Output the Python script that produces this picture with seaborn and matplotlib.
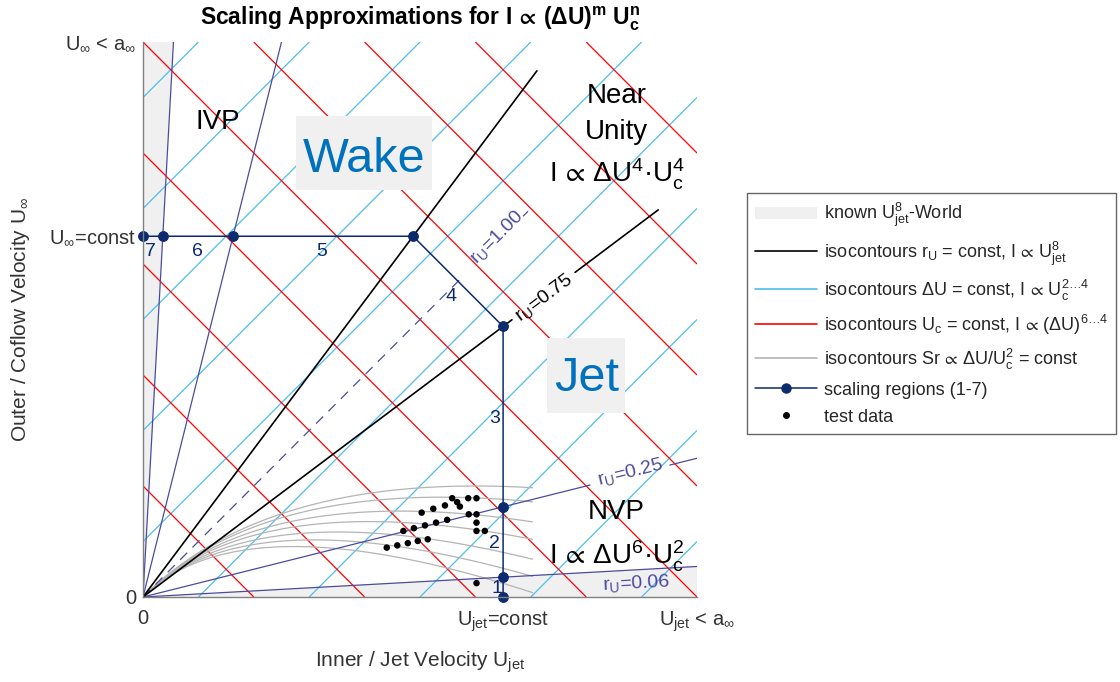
import numpy as np
import matplotlib
matplotlib.use("Agg")
import matplotlib.pyplot as plt
import seaborn as sns
import pandas as pd
from matplotlib.patches import Polygon, Patch, Rectangle
from matplotlib.lines import Line2D
from matplotlib.transforms import Bbox, TransformedBbox

# ---------------- data ----------------
du_levels = [-0.9, -0.7, -0.5, -0.3, -0.1, 0.1, 0.3, 0.5, 0.7, 0.9]     # Ujet - Uinf = const
uc_levels = [0.2, 0.4, 0.6, 0.8, 1.0, 1.2, 1.4, 1.6, 1.8]               # Ujet + Uinf = const
sr_levels = [2.5, 2.78, 3.23, 3.68, 4.27, 4.86, 5.5]                    # 4*dU/(Ujet+Uinf)^2
sr_xmax = 0.704
ru_min = 0.055          # r_U = 0.06 (known world edge)
ru_quarter = 0.25
ru_black_hi = 1 / 0.75
ru_black_lo = 0.75
u_inf_const = 0.65
u_jet_const = 0.65

test_x = [0.440, 0.459, 0.478, 0.496, 0.514,
          0.470, 0.489, 0.509, 0.529, 0.549, 0.588, 0.602,
          0.503, 0.524, 0.545, 0.558, 0.567, 0.572, 0.587, 0.602,
          0.602, 0.602, 0.617, 0.602]
test_y = [0.089, 0.093, 0.097, 0.101, 0.104,
          0.119, 0.124, 0.129, 0.134, 0.139, 0.149, 0.149,
          0.152, 0.159, 0.165, 0.178, 0.171, 0.163, 0.178, 0.178,
          0.134, 0.119, 0.119, 0.025]

region_names = ["7", "6", "5", "4", "3", "2", "1"]
region_x = [0.013, 0.098, 0.323, 0.556, 0.635, 0.635, 0.638]
region_y = [0.622, 0.622, 0.622, 0.541, 0.321, 0.097, 0.016]

xtick_vals = [0, u_jet_const, 1]
xtick_labels = ["0", r"U$_{jet}$=const", r"U$_{jet}$ < a$_{\infty}$"]
ytick_vals = [0, u_inf_const, 1]
ytick_labels = ["0", r"U$_{\infty}$=const", r"U$_{\infty}$ < a$_{\infty}$"]

# ---------------- style ----------------
sns.set_theme(style="white")
plt.rcParams["font.family"] = ["Liberation Sans", "DejaVu Sans"]
plt.rcParams["mathtext.fontset"] = "custom"
plt.rcParams["mathtext.rm"] = "Liberation Sans"
plt.rcParams["mathtext.it"] = "Liberation Sans:italic"
plt.rcParams["mathtext.bf"] = "Liberation Sans:bold"
plt.rcParams["mathtext.default"] = "regular"
plt.rcParams["mathtext.fallback"] = "stixsans"

RU_COL = "#4b4b9e"
NAVY = "#0c2a6e"
CYAN = "#4dbeee"
RED = "#ff0000"
SRGRAY = "#b4b4b4"
FILL = "#f0f0f0"
TXT = "#333333"
PROP = r"$\,\propto\,$"

fig = plt.figure(figsize=(11.2, 6.82), dpi=100)
ax = fig.add_axes([143 / 1120, 85 / 682, 554 / 1120, 555 / 682])
ax.set_xlim(0, 1)
ax.set_ylim(0, 1)

# known world wedges
ax.add_patch(Polygon([[0, 0], [0, 1], [ru_min, 1]], closed=True, fc=FILL, ec="none", zorder=0))
ax.add_patch(Polygon([[0, 0], [1, 0], [1, ru_min]], closed=True, fc=FILL, ec="none", zorder=0))

# straight isocontours via contour
g = np.linspace(0, 1, 101)
GX, GY = np.meshgrid(g, g)
ax.contour(GX, GY, GX - GY, levels=du_levels, colors=CYAN, linewidths=0.9, linestyles="solid", zorder=2)
ax.contour(GX, GY, GX + GY, levels=uc_levels, colors=RED, linewidths=0.9, linestyles="solid", zorder=2)

# Sr isocontours
sx = np.linspace(0, sr_xmax, 900)
sy = np.linspace(0, 0.3, 600)
SX, SY = np.meshgrid(sx, sy)
with np.errstate(divide="ignore", invalid="ignore"):
    SZ = 4 * (SX - SY) / (SX + SY) ** 2
SZ[~np.isfinite(SZ)] = np.nan
ax.contour(SX, SY, SZ, levels=sr_levels, colors=SRGRAY, linewidths=0.9, linestyles="solid", zorder=2)

# r_U lines
def ray(r, x0, x1):
    xs = np.array([x0, x1])
    return xs, r * xs

for r in [1 / ru_min, 1 / ru_quarter]:
    xs, ys = ray(r, 0, 1 / r)
    ax.plot(xs, ys, color=RU_COL, lw=0.9, zorder=3)
xs, ys = ray(ru_min, 0, 1)
ax.plot(xs, ys, color=RU_COL, lw=0.9, zorder=3)
for a, b in [(0, 0.807), (0.951, 1.0)]:
    xs, ys = ray(ru_quarter, a, b)
    ax.plot(xs, ys, color=RU_COL, lw=0.9, zorder=3)
for a, b in [(0, 0.578), (0.686, 0.695)]:
    xs, ys = ray(1.0, a, b)
    ax.plot(xs, ys, color=RU_COL, lw=0.9, ls=(0, (8, 6)), zorder=3)
xs, ys = ray(ru_black_hi, 0, 0.711)
ax.plot(xs, ys, color="black", lw=1.2, zorder=3)
for a, b in [(0, 0.666), (0.780, 0.930)]:
    xs, ys = ray(ru_black_lo, a, b)
    ax.plot(xs, ys, color="black", lw=1.2, zorder=3)

# r_U labels
ax.text(0.639, 0.649, r"r$_U$=1.00", color=RU_COL, fontsize=14, rotation=45,
        ha="center", va="center", rotation_mode="anchor", zorder=4)
ax.text(0.723, 0.540, r"r$_U$=0.75", color="black", fontsize=14, rotation=37,
        ha="center", va="center", rotation_mode="anchor", zorder=4)
ax.text(0.879, 0.225, r"r$_U$=0.25", color=RU_COL, fontsize=14, rotation=14,
        ha="center", va="center", rotation_mode="anchor", zorder=4)
ax.text(0.890, 0.024, r"r$_U$=0.06", color=RU_COL, fontsize=14, rotation=3,
        ha="center", va="center", rotation_mode="anchor", zorder=4)

# scaling regions path
path_x = [0, u_inf_const * ru_min, u_inf_const * ru_quarter, u_inf_const / ru_black_hi,
          u_jet_const, u_jet_const, u_jet_const, u_jet_const]
path_y = [u_inf_const, u_inf_const, u_inf_const, u_inf_const,
          u_jet_const * ru_black_lo, u_jet_const * ru_quarter, u_jet_const * ru_min, 0]
path_df = pd.DataFrame({"x": path_x, "y": path_y})
sns.lineplot(data=path_df, x="x", y="y", sort=False, estimator=None, color=NAVY, lw=1.1,
             marker="o", markersize=7, markeredgecolor=NAVY, ax=ax, zorder=5, clip_on=False)

for name, rx, ry in zip(region_names, region_x, region_y):
    ax.text(rx, ry, name, color=NAVY, fontsize=14, ha="center", va="center", zorder=6)

# test data
test_df = pd.DataFrame({"x": test_x, "y": test_y})
sns.scatterplot(data=test_df, x="x", y="y", color="black", s=22, edgecolor="none", ax=ax, zorder=6)

# annotations (boxes drawn as rectangles)
ax.add_patch(Rectangle((0.276, 0.733), 0.246, 0.134, fc=FILL, ec="none", zorder=7))
ax.add_patch(Rectangle((0.729, 0.332), 0.141, 0.135, fc=FILL, ec="none", zorder=7))
ax.text(0.399, 0.789, "Wake", color="#0072bd", fontsize=35, ha="center", va="center", zorder=8)
ax.text(0.800, 0.394, "Jet", color="#0072bd", fontsize=35, ha="center", va="center", zorder=8)
ax.text(0.135, 0.855, "IVP", fontsize=20, ha="center", va="center", color="black", zorder=7)
ax.text(0.855, 0.903, "Near", fontsize=20, ha="center", va="center", color="black", zorder=7)
ax.text(0.855, 0.838, "Unity", fontsize=20, ha="center", va="center", color="black", zorder=7)
ax.text(0.855, 0.762, "I" + PROP + r"ΔU$^4$·U$_c^4$", fontsize=20, ha="center", va="center",
        color="black", zorder=7)
ax.text(0.855, 0.153, "NVP", fontsize=20, ha="center", va="center", color="black", zorder=7)
ax.text(0.855, 0.074, "I" + PROP + r"ΔU$^6$·U$_c^2$", fontsize=20, ha="center", va="center",
        color="black", zorder=7)

# axes cosmetics
ax.set_xticks(xtick_vals)
ax.set_xticklabels(xtick_labels)
ax.set_yticks(ytick_vals)
ax.set_yticklabels(ytick_labels)
ax.tick_params(length=0, labelsize=14.5, labelcolor=TXT)
ax.tick_params(axis="x", pad=9)
ax.tick_params(axis="y", pad=5)
for s in ["top", "right"]:
    ax.spines[s].set_visible(False)
for s in ["left", "bottom"]:
    ax.spines[s].set_color("#808080")
    ax.spines[s].set_linewidth(1.0)
    ax.spines[s].set_zorder(8)
ax.set_xlabel(r"Inner / Jet Velocity U$_{jet}$", fontsize=15, color=TXT)
ax.set_ylabel(r"Outer / Coflow Velocity U$_{\infty}$", fontsize=15, color=TXT)
ax.xaxis.set_label_coords(0.5, -0.095)
ax.yaxis.set_label_coords(-0.2, 0.5)

t = fig.text(0.375, 0.972, r"Scaling Approximations for I$\,\mathbf{\propto}\,$(ΔU)$^{\mathbf{m}}$ U$_{\mathbf{c}}^{\mathbf{n}}$",
             fontsize=16.5, fontweight="bold", ha="center", va="center", color="black")
t.set_clip_box(TransformedBbox(Bbox([[0, 0.956], [1, 1]]), fig.transFigure))
t.set_clip_on(True)

# legend
handles = [
    Patch(fc=FILL, ec="none"),
    Line2D([], [], color="black", lw=1.2),
    Line2D([], [], color=CYAN, lw=1.2),
    Line2D([], [], color=RED, lw=1.2),
    Line2D([], [], color=SRGRAY, lw=1.2),
    Line2D([], [], color=NAVY, lw=1.1, marker="o", markersize=6.5),
    Line2D([], [], color="black", lw=0, marker="o", markersize=4),
]
labels = [
    r"known U$_{jet}^{8}$-World",
    "isocontours r$_U$ = const, I" + PROP + "U$_{jet}^{8}$",
    "isocontours ΔU = const, I" + PROP + r"U$_c^{2\ldots4}$",
    "isocontours U$_c$ = const, I" + PROP + r"(ΔU)$^{6\ldots4}$",
    "isocontours Sr" + PROP + "ΔU/U$_c^2$ = const",
    "scaling regions (1-7)",
    "test data",
]
leg = fig.legend(handles, labels, loc="upper left", bbox_to_anchor=(747 / 1120, 1 - 193 / 682),
                 fontsize=13.0, frameon=True, fancybox=False, borderaxespad=0, handlelength=3.4,
                 handletextpad=0.4, labelspacing=0.55, borderpad=0.45)
leg.get_frame().set_edgecolor("#404040")
leg.get_frame().set_linewidth(1.0)

fig.savefig("out.png", dpi=100)
